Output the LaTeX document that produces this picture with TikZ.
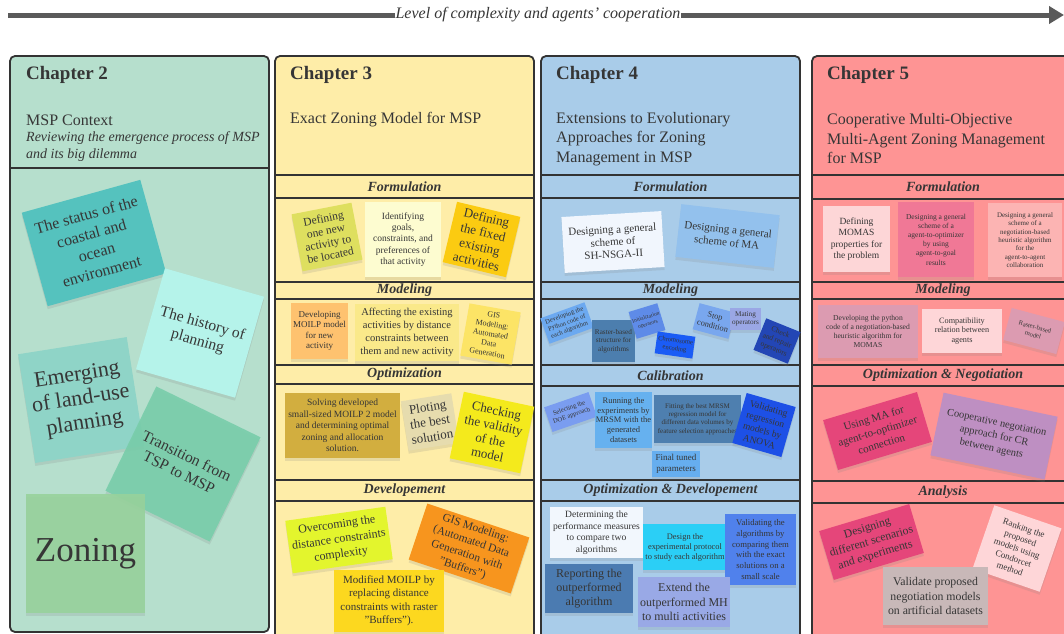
\documentclass[tikz,border=0pt]{standalone}
\usepackage{fontspec}
\setmainfont{Liberation Serif}
\usetikzlibrary{shadows,arrows.meta}
\newcommand\fsz[2]{\fontsize{#1pt}{#2pt}\selectfont}
\definecolor{ln}{HTML}{333333}
\definecolor{txt}{HTML}{363636}
\definecolor{arrc}{HTML}{5A5A5A}
\definecolor{bgA}{HTML}{B6DFCD}
\definecolor{bgB}{HTML}{FEEDA8}
\definecolor{bgC}{HTML}{A9CCE9}
\definecolor{bgD}{HTML}{FE9494}
% chapter 2
\definecolor{nStatus}{HTML}{55C2BE}
\definecolor{nHist}{HTML}{B5F3EA}
\definecolor{nEmerg}{HTML}{8FD4C7}
\definecolor{nTrans}{HTML}{78CDAA}
\definecolor{nZon}{HTML}{97D29C}
% chapter 3
\definecolor{nDefA}{HTML}{DEDF5F}
\definecolor{nIdent}{HTML}{FDFCD0}
\definecolor{nDefB}{HTML}{FBCB11}
\definecolor{nDevM}{HTML}{FEC26F}
\definecolor{nAff}{HTML}{FAE98A}
\definecolor{nGisA}{HTML}{FCE466}
\definecolor{nSolv}{HTML}{D2AE3F}
\definecolor{nPlot}{HTML}{E6DCAE}
\definecolor{nCheckB}{HTML}{F4EA1C}
\definecolor{nOver}{HTML}{E3F52D}
\definecolor{nGisB}{HTML}{F7951E}
\definecolor{nMod}{HTML}{FCD81F}
% chapter 4
\definecolor{nSh}{HTML}{F1F6FD}
\definecolor{nMa}{HTML}{93C1ED}
\definecolor{nPy}{HTML}{6CA9F0}
\definecolor{nRas}{HTML}{4C7EAE}
\definecolor{nInit}{HTML}{5E8BE8}
\definecolor{nChrom}{HTML}{1B5CF5}
\definecolor{nStop}{HTML}{79A7EE}
\definecolor{nMat}{HTML}{9AA7E5}
\definecolor{nChk}{HTML}{2346B5}
\definecolor{nDoe}{HTML}{7A9DF0}
\definecolor{nRun}{HTML}{66B1EF}
\definecolor{nFit}{HTML}{4E7FAF}
\definecolor{nAnova}{HTML}{1D50E6}
\definecolor{nFin}{HTML}{66AEEF}
\definecolor{nDet}{HTML}{F2F7FD}
\definecolor{nDes}{HTML}{2BCFF6}
\definecolor{nValA}{HTML}{5081EC}
\definecolor{nRep}{HTML}{4B7BB1}
\definecolor{nExt}{HTML}{99A9E6}
% chapter 5
\definecolor{nMomas}{HTML}{FDD6D7}
\definecolor{nAto}{HTML}{F07896}
\definecolor{nNeg}{HTML}{FCB4B3}
\definecolor{nPyc}{HTML}{DC9BB1}
\definecolor{nComp}{HTML}{FED6D8}
\definecolor{nUse}{HTML}{E5467A}
\definecolor{nCoop}{HTML}{BE8FC2}
\definecolor{nVal}{HTML}{C8B8B8}
\tikzset{
  sz/.style 2 args={minimum width=#1pt, minimum height=#2pt},
  sn/.style={align=center, inner sep=0pt, text=txt,
    drop shadow={opacity=0.18, shadow xshift=0pt, shadow yshift=-3pt}},
  colframe/.style={draw=ln, line width=1.8pt, rounded corners=5pt},
  band/.style={draw=ln, line width=1.6pt, minimum height=#1pt, inner sep=0pt,
    text=txt, font=\bfseries\itshape\fsz{14}{16}},
  ctitle/.style={anchor=west, inner sep=0pt, text=txt, font=\bfseries\fsz{19}{22}},
  csub/.style={anchor=west, inner sep=0pt, text=txt, align=left, font=\fsz{16}{19.5}},
}
\begin{document}
\begin{tikzpicture}[x=1pt, y=-1pt]
\useasboundingbox (0,0) rectangle (1064,633);
\clip (0,0) rectangle (1064,633);
\fill[white] (0,0) rectangle (1064,633);

% ---------- top arrow ----------
\coordinate (ast) at (8,15);
\coordinate (aen) at (1064,15);
\draw[line width=5pt, arrc, -{Triangle[length=15pt,width=17pt]}] (ast) -- (aen);
\node[fill=white, inner xsep=1pt, inner ysep=1pt, text=txt, font=\itshape\fsz{16}{18}] (lvl) at (538,15) {Level of complexity and agents' cooperation};

% ---------- column frames ----------
\draw[colframe, fill=bgA] (10,56) rectangle (269,632);
\draw[ln, line width=1.6pt] (10,168) -- (269,168);
\draw[colframe, fill=bgB] (275,56) rectangle (534,660);
\draw[colframe, fill=bgC] (541,56) rectangle (800,660);
\draw[colframe, fill=bgD] (812,56) rectangle (1090,660);

% ---------- chapter titles ----------
\node[ctitle] (t2) at (26,75) {Chapter 2};
\node[ctitle] (t3) at (290,75) {Chapter 3};
\node[ctitle] (t4) at (556,75) {Chapter 4};
\node[ctitle] (t5) at (827,75) {Chapter 5};
\node[csub] (s2) at (26,120) {MSP Context};
\node[anchor=west, inner sep=0pt, text=txt, align=left, font=\itshape\fsz{14}{17}] (s2b) at (26,146.5) {Reviewing the emergence process of MSP\\and its big dilemma};
\node[csub] (s3) at (290,120) {Exact Zoning Model for MSP};
\node[csub] (s4) at (556,139) {Extensions to Evolutionary\\Approaches for Zoning\\Management in MSP};
\node[csub] (s5) at (827,139) {Cooperative Multi-Objective\\Multi-Agent Zoning Management\\for MSP};

% ---------- section bands ----------
\node[band=23, fill=bgB, minimum width=259pt] (b3a) at (404.5,186.5) {Formulation};
\node[band=17, fill=bgB, minimum width=259pt] (b3b) at (404.5,290.5) {Modeling};
\node[band=19, fill=bgB, minimum width=259pt] (b3c) at (404.5,374.5) {Optimization};
\node[band=21, fill=bgB, minimum width=259pt] (b3d) at (404.5,490.5) {Developement};

\node[band=23, fill=bgC, minimum width=259pt] (b4a) at (670.5,186.5) {Formulation};
\node[band=17, fill=bgC, minimum width=259pt] (b4b) at (670.5,290.5) {Modeling};
\node[band=21, fill=bgC, minimum width=259pt] (b4c) at (670.5,375.5) {Calibration};
\node[band=21, fill=bgC, minimum width=259pt] (b4d) at (670.5,490.5) {Optimization \& Developement};

\node[band=24, fill=bgD, minimum width=262pt] (b5a) at (943,187) {Formulation};
\node[band=17, fill=bgD, minimum width=262pt] (b5b) at (943,290.5) {Modeling};
\node[band=21, fill=bgD, minimum width=262pt] (b5c) at (943,375.5) {Optimization \& Negotiation};
\node[band=22, fill=bgD, minimum width=262pt] (b5d) at (943,492) {Analysis};

% ---------- chapter 2 notes ----------
\node[sn, fill=nStatus, sz={123}{97}, rotate=15.5, font=\fsz{16}{19.5}] (status) at (94,243) {The status of the\\coastal and\\ocean\\environment};
\node[sn, fill=nHist, sz={103}{105}, rotate=-16, font=\fsz{15.5}{18}] (hist) at (200,333) {The history of\\planning};
\node[sn, fill=nEmerg, sz={110}{110}, rotate=9, font=\fsz{22}{24.5}] (emerg) at (81,400) {Emerging\\of land-use\\planning};
\node[sn, fill=nTrans, fill opacity=0.9, text opacity=1, sz={116}{116}, rotate=-26, font=\fsz{15.5}{18}] (trans) at (183,464) {Transition from\\TSP to MSP};
\node[sn, fill=nZon, fill opacity=0.9, text opacity=1, sz={119}{119}, font=\fsz{35}{40}] (zon) at (85.5,553.5) {Zoning};

% ---------- chapter 3 notes ----------
\node[sn, fill=nDefA, sz={61}{58}, rotate=11, font=\fsz{11.5}{12.5}] (defa) at (327,237) {Defining\\one new\\activity to\\be located};
\node[sn, fill=nIdent, sz={76}{75}, font=\fsz{9.5}{11.3}] (ident) at (403,239.5) {Identifying\\goals,\\constraints, and\\preferences of\\that activity};
\node[sn, fill=nDefB, sz={65}{62}, rotate=-13.4, font=\fsz{13}{15}] (defb) at (481.5,239.5) {Defining\\the fixed\\existing\\activities};

\node[sn, fill=nDevM, sz={57}{56}, font=\fsz{9}{10.5}] (devm) at (319.5,331) {Developing\\MOILP model\\for new\\activity};
\node[sn, fill=nAff, sz={104}{57}, font=\fsz{10.5}{12.8}] (aff) at (407,332.5) {Affecting the existing\\activities by distance\\constraints between\\them and new activity};
\node[sn, fill=nGisA, sz={52}{53}, rotate=-10, font=\fsz{8}{9.7}] (gisa) at (490.5,334) {GIS\\Modeling:\\Automated\\Data\\Generation};

\node[sn, fill=nSolv, sz={115}{65}, font=\fsz{9.5}{11.4}] (solv) at (342.5,425.5) {Solving developed\\small-sized MOILP 2 model\\and determining optimal\\zoning and allocation\\solution.};
\node[sn, fill=nPlot, sz={51}{50}, rotate=9, font=\fsz{13}{15}] (plot) at (430,422) {Ploting\\the best\\solution};
\node[sn, fill=nCheckB, sz={72}{68}, rotate=-12, font=\fsz{13}{15}] (chkm) at (492,432.5) {Checking\\the validity\\of the\\model};

\node[sn, fill=nOver, sz={101}{53}, rotate=8, font=\fsz{12}{15}] (over) at (339,540) {Overcoming the\\distance constraints\\complexity};
\node[sn, fill=nGisB, sz={107.5}{59}, rotate=-18.4, font=\fsz{11.5}{14}] (gisb) at (469,548.5) {GIS Modeling:\\(Automated Data\\Generation with\\"Buffers")};
\node[sn, fill=nMod, sz={110}{62}, font=\fsz{11}{13.5}] (modi) at (389,601) {Modified MOILP by\\replacing distance\\constraints with raster\\"Buffers").};

% ---------- chapter 4 notes ----------
\node[sn, fill=nSh, sz={100}{56}, rotate=3.4, font=\fsz{11}{12.5}] (shn) at (613,242) {Designing a general\\scheme of\\SH-NSGA-II};
\node[sn, fill=nMa, sz={99}{53}, rotate=-6.4, font=\fsz{11}{13}] (ma) at (727.5,236) {Designing a general\\scheme of MA};

\node[sn, fill=nPy, sz={47}{27}, rotate=20, font=\fsz{6.5}{7.5}] (py) at (567,323) {Developing the\\Python code of\\each algorithm};
\node[sn, fill=nRas, sz={43}{42}, font=\fsz{7.2}{8.5}] (ras) at (613.5,341) {Raster-based\\structure for\\algorithms};
\node[sn, fill=nInit, sz={30}{28}, rotate=17, font=\fsz{5.5}{7}] (init) at (647,321) {Initialization\\operators};
\node[sn, fill=nChrom, sz={38}{22}, rotate=-8, font=\fsz{6.5}{8}] (chrom) at (675,345) {Chromosome\\encoding};
\node[sn, fill=nStop, sz={37}{27}, rotate=-15, font=\fsz{8.4}{10}] (stop) at (714,321) {Stop\\condition};
\node[sn, fill=nMat, sz={31}{22}, font=\fsz{7.2}{8.5}] (mat) at (745.5,319) {Mating\\operators};
\node[sn, fill=nChk, sz={37}{34}, rotate=-22, font=\fsz{7.5}{9}] (chk) at (777,341) {Check\\and repair\\operators};

\node[sn, fill=nDoe, sz={47}{26}, rotate=19, font=\fsz{6.5}{8}] (doe) at (570.5,412) {Selecting the\\DOE approach};
\node[sn, fill=nRun, sz={57}{56}, font=\fsz{8.5}{9.6}] (run) at (623.5,420) {Running the\\experiments by\\MRSM with the\\generated\\datasets};
\node[sn, fill=nFit, sz={87}{48}, font=\fsz{7}{8.3}] (fit) at (697.5,419) {Fitting the best MRSM\\regression model for\\different data volumes by\\feature selection approaches};
\node[sn, fill=nAnova, sz={51}{52}, rotate=-16, font=\fsz{9.5}{11.5}] (anova) at (764,425) {Validating\\regression\\models by\\ANOVA};
\node[sn, fill=nFin, sz={48}{26}, font=\fsz{9}{11}] (fin) at (676,464) {Final tuned\\parameters};

\node[sn, fill=nDet, sz={93}{51}, font=\fsz{9.6}{11.5}] (det) at (596.5,532.5) {Determining the\\performance measures\\to compare two\\algorithms};
\node[sn, fill=nDes, sz={84}{46}, font=\fsz{8.4}{10}] (des) at (685,547) {Design the\\experimental protocol\\to study each algorithm};
\node[sn, fill=nValA, sz={71}{71}, font=\fsz{8.7}{10.7}] (vala) at (760.5,549.5) {Validating the\\algorithms by\\comparing them\\with the exact\\solutions on a\\small scale};
\node[sn, fill=nRep, sz={88}{49}, font=\fsz{12}{14.2}] (rep) at (589,588.5) {Reporting the\\outperformed\\algorithm};
\node[sn, fill=nExt, sz={92}{50}, font=\fsz{12}{14.2}] (ext) at (684,602) {Extend the\\outperformed MH\\to multi activities};

% ---------- chapter 5 notes ----------
\node[sn, fill=nMomas, sz={67}{66}, font=\fsz{9.5}{11.4}] (momas) at (856.5,239) {Defining\\MOMAS\\properties for\\the problem};
\node[sn, fill=nAto, sz={76}{75}, font=\fsz{7.5}{9.2}] (ato) at (936,239.5) {Designing a general\\scheme of a\\agent-to-optimizer\\by using\\agent-to-goal\\results};
\node[sn, fill=nNeg, sz={74}{74}, font=\fsz{7}{8.4}] (neg) at (1025,240) {Designing a general\\scheme of a\\negotiation-based\\heuristic algorithm\\for the\\agent-to-agent\\collaboration};

\node[sn, fill=nPyc, sz={100}{53}, font=\fsz{7.6}{9}] (pyc) at (868,331.5) {Developing the python\\code of a negotiation-based\\heuristic algorithm for\\MOMAS};
\node[sn, fill=nComp, sz={80}{44}, font=\fsz{8.2}{9.8}] (comp) at (962,331) {Compatibility\\relation between\\agents};
\node[sn, fill=nPyc, sz={55}{33}, rotate=-15, font=\fsz{6.5}{8}] (ras5) at (1034,331) {Raster-based\\model};

\node[sn, fill=nUse, sz={98}{52}, rotate=16.7, font=\fsz{11}{13.5}] (use) at (877.5,431) {Using MA for\\agent-to-optimizer\\connection};
\node[sn, fill=nCoop, sz={116.5}{64}, rotate=-11.9, font=\fsz{10.5}{13}] (coop) at (994,436) {Cooperative negotiation\\approach for CR\\between agents};

\node[sn, fill=nUse, sz={94}{51}, rotate=16.7, font=\fsz{11.7}{14}] (desg) at (871.5,542) {Designing\\different scenarios\\and experiments};
\node[sn, fill=nComp, sz={71}{67}, rotate=-19, font=\fsz{9}{10.8}] (rank) at (1017,548.5) {Ranking the\\proposed\\models using\\Condorcet\\method};
\node[sn, fill=nVal, sz={105}{58}, font=\fsz{11.8}{14.3}] (valn) at (935.5,596) {Validate proposed\\negotiation models\\on artificial datasets};
\end{tikzpicture}
\end{document}
